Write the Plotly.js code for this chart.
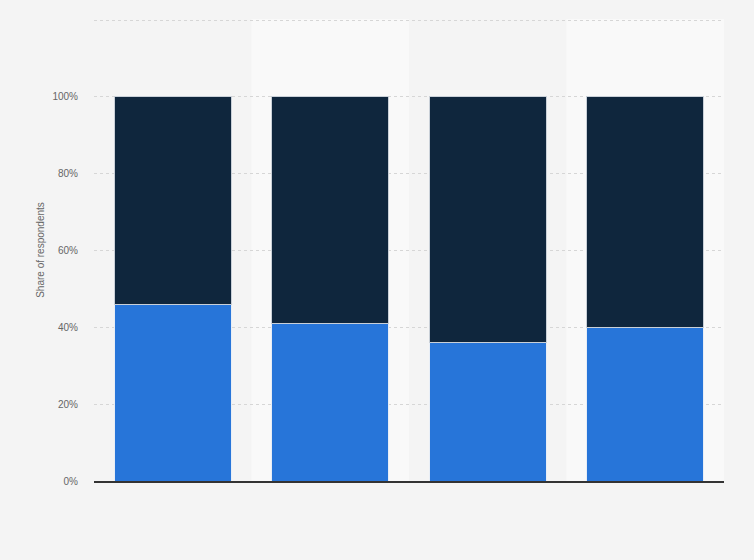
<!DOCTYPE html>
<html>
<head>
<meta charset="utf-8">
<script src="https://cdn.plot.ly/plotly-3.0.1.min.js"></script>
<style>
  html, body { margin: 0; padding: 0; background: #f4f4f4; }
  #chart { width: 754px; height: 560px; }
</style>
</head>
<body>
<div id="chart"></div>
<script>
// no category labels are shown in the source, so these stay hidden
var categories = ['Group 1', 'Group 2', 'Group 3', 'Group 4'];
var lowerShare = [46, 41, 36, 40];
var upperShare = [54, 59, 64, 60];
var yTicks = [0, 20, 40, 60, 80, 100, 120];
var yTickText = ['0%', '20%', '40%', '60%', '80%', '100%', ''];

var trace1 = {
  x: categories, y: lowerShare, type: 'bar', name: 'Yes',
  marker: {color: '#2775d9', line: {color: '#e8eef6', width: 1}},
  hoverinfo: 'y'
};
var trace2 = {
  x: categories, y: upperShare, type: 'bar', name: 'No',
  marker: {color: '#0f263d', line: {color: '#c9d0d8', width: 1}},
  hoverinfo: 'y'
};

// lighter background band behind every second column
var shapes = [];
for (var i = 1; i < categories.length; i += 2) {
  shapes.push({
    type: 'rect', layer: 'below',
    xref: 'x', yref: 'paper',
    x0: i - 0.5, x1: i + 0.5, y0: 0, y1: 1,
    fillcolor: '#f9f9f9', line: {width: 0}
  });
}

var layout = {
  width: 754, height: 560,
  margin: {l: 94, r: 30, t: 19, b: 79},
  paper_bgcolor: '#f4f4f4',
  plot_bgcolor: '#f4f4f4',
  barmode: 'stack',
  bargap: 0.255,
  showlegend: false,
  shapes: shapes,
  font: {family: 'Liberation Sans, Arial, sans-serif', color: '#666666', size: 10},
  xaxis: {
    showticklabels: false, showgrid: false, zeroline: false,
    showline: true, linecolor: '#333333', linewidth: 2,
    ticks: '', fixedrange: true
  },
  yaxis: {
    range: [0, 120.3],
    tickvals: yTicks, ticktext: yTickText,
    showgrid: true, gridcolor: '#d6d6d6', griddash: 'dot', gridwidth: 1,
    zeroline: false, ticks: '', ticklen: 0,
    ticklabelstandoff: 15,
    tickfont: {size: 10, color: '#666666'},
    title: {text: 'Share of respondents', font: {size: 10, color: '#666666'}, standoff: 5},
    fixedrange: true
  }
};

Plotly.newPlot('chart', [trace1, trace2], layout, {displayModeBar: false, staticPlot: true});
</script>
</body>
</html>
